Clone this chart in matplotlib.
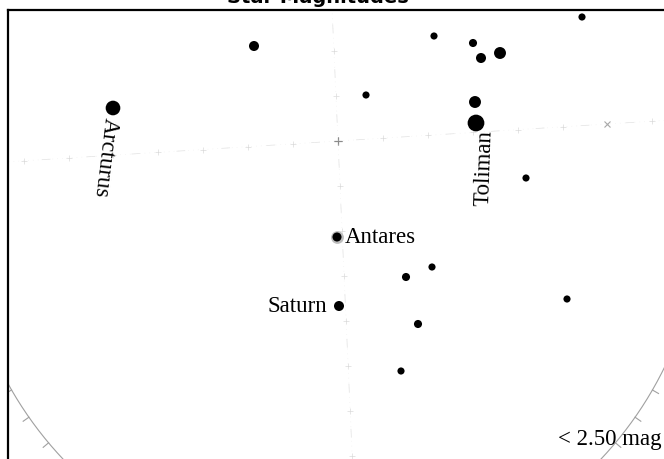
import numpy as np
import matplotlib
matplotlib.use("Agg")
import matplotlib.pyplot as plt

# star chart data (screen position in px from top-left, visual magnitude)
star_x = [582, 254, 434, 473, 481, 500, 366, 475, 113, 476, 526, 337, 432, 406, 339, 567, 418, 401]
star_y = [17, 46, 36, 43, 58, 53, 95, 102, 108, 123, 178, 237, 267, 277, 306, 299, 324, 371]
star_mag = [2.3, 1.4, 2.3, 2.0, 1.4, 0.8, 2.3, 0.8, -0.05, -0.7, 2.3, 1.7, 2.3, 2.0, 1.4, 2.3, 2.0, 2.3]

labels = {8: "Arcturus", 9: "Toliman", 11: "Antares", 14: "Saturn"}
mag_limit = "< 2.50 mag"
title = "Star Magnitudes"

# grid / horizon geometry
grid_center = (338, 141)
grid_step = 45
horizon_center = (332, 205)
horizon_radius = 370


def mag_to_size(m):
    d = 14.5 - 3.2 * np.asarray(m)  # diameter in px
    return (d * 0.72) ** 2


fig = plt.figure(figsize=(6.64, 4.59), dpi=100)
ax = fig.add_axes([8 / 664, -50 / 459, 700 / 664, 499 / 459])
ax.set_xlim(8, 708)
ax.set_ylim(509, 10)
for s in ["left", "top"]:
    ax.spines[s].set_linewidth(1.6)
ax.set_xticks([])
ax.set_yticks([])
ax.patch.set_facecolor("white")

# rotated coordinate grid
u = np.array([0.998, -0.063])
v = np.array([0.045, 0.999])
c = np.array(grid_center, dtype=float)
for d in (u, v):
    for k in range(-10, 11):
        p = c + k * grid_step * d
        if k == 0:
            ax.plot(p[0], p[1], marker="+", ms=6, mew=0.8, color="#8a8a8a")
        elif d is u and k == 6:
            ax.plot(p[0], p[1], marker="x", ms=5, mew=0.8, color="#a8a8a8")
        else:
            ax.plot(p[0], p[1], marker="+", ms=5, mew=0.5, color="#dadada")
        m = c + (k + 0.5) * grid_step * d
        a, b = m - 4 * d, m + 4 * d
        ax.plot([a[0], b[0]], [a[1], b[1]], color="#e2e2e2", lw=0.5)
    # fine dots along the line
    t = np.linspace(-10, 10, 200) * grid_step
    ax.plot(c[0] + t * d[0], c[1] + t * d[1], ls=(0, (1, 6)), color="#efefef", lw=0.5)

# horizon arc (lower part) with ticks
th = np.linspace(np.deg2rad(15), np.deg2rad(165), 400)
hx, hy = horizon_center
ax.plot(hx + horizon_radius * np.cos(th), hy + horizon_radius * np.sin(th), color="#a0a0a0", lw=0.8)
for ang in np.deg2rad(np.arange(15, 166, 5)):
    r0, r1 = horizon_radius, horizon_radius + 7
    ax.plot([hx + r0 * np.cos(ang), hx + r1 * np.cos(ang)],
            [hy + r0 * np.sin(ang), hy + r1 * np.sin(ang)], color="#a0a0a0", lw=0.8)

# stars
ax.scatter(star_x[11], star_y[11], s=mag_to_size(star_mag[11]) * 2.0, color="#bdbdbd", zorder=3, lw=0)
ax.scatter(star_x, star_y, s=mag_to_size(star_mag), color="black", zorder=4, lw=0)

serif = dict(family="Liberation Serif", fontsize=16.5, color="black", zorder=5)
ax.text(star_x[8] - 3, star_y[8] + 10, labels[8], rotation=-97, rotation_mode="anchor",
        ha="left", va="center", **serif)
ax.text(star_x[9] + 10, star_y[9] + 7, labels[9], rotation=88, rotation_mode="anchor",
        ha="right", va="center", **serif)
ax.text(star_x[11] + 8, star_y[11] + 1, labels[11], ha="left", va="center", **serif)
ax.text(star_x[14] - 12, star_y[14] + 1, labels[14], ha="right", va="center", **serif)
ax.text(662, 440, mag_limit, ha="right", va="center", **serif)

fig.text(318 / 664, 1 - 3 / 459, title, ha="center", va="baseline",
         fontsize=14, fontweight="bold", family="DejaVu Sans")

fig.savefig("out.png", dpi=100)
